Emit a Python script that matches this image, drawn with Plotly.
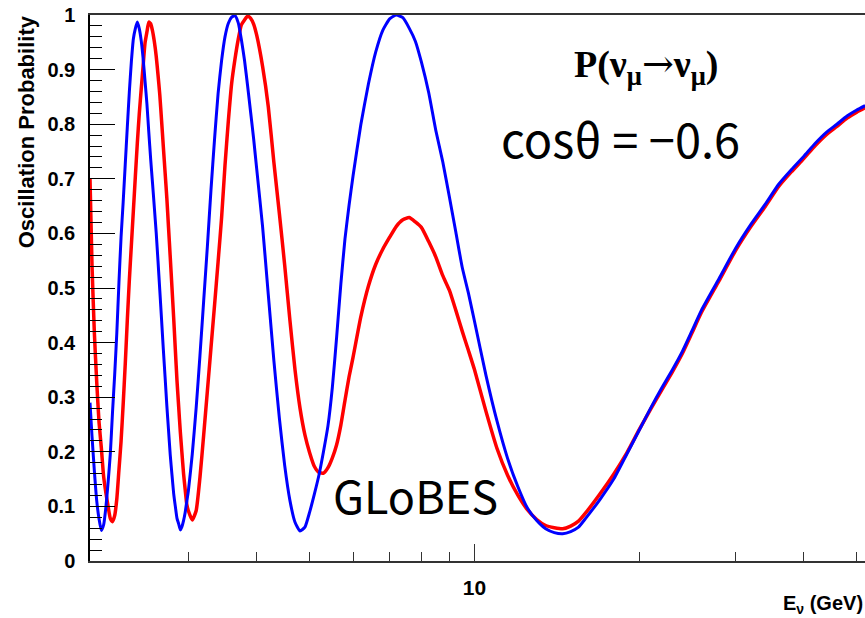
import math
import plotly.graph_objects as go

# Neutrino energy grid (GeV)
energy_gev = [1.983, 2.00, 2.02, 2.04, 2.06, 2.08, 2.10, 2.12, 2.14, 2.16, 2.18, 2.20, 2.22, 2.24,
              2.26, 2.28, 2.30, 2.32, 2.34, 2.36, 2.38, 2.40, 2.42, 2.44, 2.46, 2.48, 2.50, 2.52,
              2.54, 2.56, 2.58, 2.60, 2.62, 2.64, 2.66, 2.68, 2.70, 2.72, 2.74, 2.76, 2.78, 2.80,
              2.82, 2.84, 2.86, 2.88, 2.90, 2.92, 2.94, 2.96, 2.98, 3.00, 3.05, 3.10, 3.15, 3.20,
              3.25, 3.30, 3.35, 3.40, 3.45, 3.50, 3.55, 3.60, 3.65, 3.70, 3.75, 3.80, 3.85, 3.90,
              3.95, 4.0, 4.1, 4.2, 4.3, 4.4, 4.5, 4.6, 4.7, 4.8, 4.9, 5.0, 5.1, 5.2, 5.3, 5.4, 5.5,
              5.6, 5.7, 5.8, 5.9, 6.0, 6.2, 6.4, 6.6, 6.8, 7.0, 7.2, 7.4, 7.6, 7.8, 8.0, 8.25, 8.5,
              8.75, 9.0, 9.25, 9.5, 9.75, 10, 10.5, 11, 11.5, 12, 12.5, 13, 13.5, 14, 14.5, 15,
              15.5, 16, 17, 18, 19, 20, 21, 22, 23, 24, 25, 26, 28, 30, 32, 34, 36, 38, 40, 42,
              44, 46, 48, 50, 51.8]

# Blue curve: P(nu_mu -> nu_mu)
prob_blue = [0.29, 0.228, 0.164, 0.11, 0.077, 0.056, 0.066, 0.098, 0.144, 0.196, 0.272, 0.341,
             0.418, 0.51, 0.593, 0.657, 0.726, 0.794, 0.859, 0.914, 0.956, 0.975, 0.987, 0.975,
             0.953, 0.92, 0.879, 0.837, 0.785, 0.736, 0.692, 0.647, 0.602, 0.55, 0.496, 0.442,
             0.388, 0.337, 0.285, 0.239, 0.194, 0.158, 0.124, 0.10, 0.078, 0.068, 0.057, 0.063,
             0.074, 0.089, 0.109, 0.128, 0.196, 0.28, 0.376, 0.477, 0.576, 0.68, 0.773, 0.856,
             0.916, 0.96, 0.985, 0.996, 0.999, 0.986, 0.955, 0.917, 0.87, 0.821, 0.772, 0.718,
             0.613, 0.488, 0.367, 0.262, 0.175, 0.111, 0.071, 0.055, 0.062, 0.09, 0.123, 0.158,
             0.201, 0.248, 0.318, 0.41, 0.507, 0.59, 0.651, 0.705, 0.799, 0.873, 0.932, 0.972,
             0.993, 1.0, 0.995, 0.976, 0.952, 0.914, 0.858, 0.789, 0.732, 0.667, 0.602, 0.538,
             0.491, 0.44, 0.34, 0.256, 0.188, 0.137, 0.097, 0.074, 0.059, 0.052, 0.05, 0.054,
             0.062, 0.079, 0.114, 0.151, 0.196, 0.239, 0.28, 0.317, 0.35, 0.384, 0.422, 0.459,
             0.517, 0.572, 0.616, 0.653, 0.69, 0.717, 0.741, 0.765, 0.785, 0.80, 0.815, 0.826,
             0.834]

# Red curve
prob_red = [0.70, 0.54, 0.417, 0.327, 0.254, 0.207, 0.155, 0.125, 0.10, 0.078, 0.072, 0.083,
            0.114, 0.167, 0.219, 0.287, 0.36, 0.44, 0.514, 0.578, 0.641, 0.704, 0.765, 0.819,
            0.864, 0.907, 0.949, 0.969, 0.987, 0.984, 0.971, 0.951, 0.925, 0.891, 0.854, 0.807,
            0.759, 0.712, 0.665, 0.61, 0.556, 0.501, 0.446, 0.387, 0.33, 0.283, 0.237, 0.198,
            0.16, 0.131, 0.104, 0.092, 0.075, 0.092, 0.153, 0.231, 0.311, 0.391, 0.469, 0.548,
            0.628, 0.724, 0.806, 0.875, 0.919, 0.955, 0.982, 0.991, 0.998, 0.994, 0.983, 0.963,
            0.906, 0.832, 0.73, 0.637, 0.542, 0.441, 0.35, 0.28, 0.231, 0.198, 0.173, 0.162,
            0.161, 0.171, 0.189, 0.213, 0.249, 0.294, 0.337, 0.373, 0.447, 0.503, 0.543, 0.571,
            0.593, 0.613, 0.625, 0.629, 0.621, 0.611, 0.585, 0.557, 0.523, 0.496, 0.459, 0.421,
            0.386, 0.351, 0.274, 0.206, 0.157, 0.121, 0.094, 0.076, 0.065, 0.061, 0.059, 0.064,
            0.073, 0.089, 0.124, 0.16, 0.198, 0.24, 0.278, 0.313, 0.346, 0.38, 0.418, 0.455,
            0.513, 0.568, 0.612, 0.649, 0.686, 0.713, 0.737, 0.761, 0.781, 0.796, 0.811, 0.822,
            0.83]

x_major_ticks = [10]
x_major_labels = ["10"]
x_minor_ticks = [3, 4, 5, 6, 7, 8, 9, 20, 30, 40, 50]

fig = go.Figure()
fig.add_trace(go.Scatter(x=energy_gev, y=prob_red, mode="lines",
                         line=dict(color="#ff0000", width=3.5, shape="spline", smoothing=0.5),
                         showlegend=False))
fig.add_trace(go.Scatter(x=energy_gev, y=prob_blue, mode="lines",
                         line=dict(color="#0000ff", width=3, shape="spline", smoothing=0.5),
                         showlegend=False))

bold = dict(family="Liberation Sans, Arial, sans-serif", color="black", weight="bold")

fig.update_layout(
    width=865, height=618,
    margin=dict(l=90, r=0, t=15, b=57),
    plot_bgcolor="white", paper_bgcolor="white",
    xaxis=dict(
        type="log", range=[math.log10(1.983), math.log10(51.77)],
        showgrid=False, zeroline=False,
        showline=True, linecolor="#333333", linewidth=1.5, mirror=True,
        ticks="inside", ticklen=17, tickwidth=1.2, tickcolor="#333333",
        tickmode="array", tickvals=x_major_ticks, ticktext=x_major_labels,
        tickfont=dict(size=21, **bold), ticklabelstandoff=7,
        minor=dict(tickmode="array", tickvals=x_minor_ticks, ticks="inside",
                   ticklen=9, tickwidth=1.2, tickcolor="#333333", showgrid=False),
    ),
    yaxis=dict(
        range=[0, 1], showgrid=False, zeroline=False,
        showline=True, linecolor="black", linewidth=1.5, mirror=False,
        ticks="inside", ticklen=25, tickwidth=1.2, tickcolor="black",
        dtick=0.1, tick0=0, tickformat="~g", ticklabeloverflow="allow",
        tickfont=dict(size=20, **bold), ticklabelstandoff=9,
        minor=dict(dtick=0.02, ticks="inside", ticklen=12, tickwidth=1.2,
                   tickcolor="black", showgrid=False),
    ),
    annotations=[
        dict(text="Oscillation Probability", xref="paper", yref="paper",
             x=-0.082, y=1.003, xanchor="center", yanchor="top", textangle=-90,
             showarrow=False, font=dict(size=22, **bold)),
        dict(text="E<sub>ν</sub> (GeV)", xref="paper", yref="paper",
             x=1.0, y=(561 - 604) / 546, xanchor="right", yanchor="middle",
             showarrow=False, font=dict(size=20, **bold)),
        dict(text="<b>P(ν<sub>μ</sub></b><span style=\"font-family:'DejaVu Serif'\">→</span><b>ν<sub>μ</sub>)</b>",
             xref="paper", yref="paper",
             x=0.718, y=0.905, xanchor="center", yanchor="middle", showarrow=False,
             font=dict(size=38, family="Liberation Serif, Times New Roman, serif", color="black")),
        dict(text="cosθ = −0.6", xref="paper", yref="paper",
             x=0.684, y=0.776, xanchor="center", yanchor="middle", showarrow=False,
             font=dict(size=47, family="Noto Sans CJK JP, Noto Sans, sans-serif", color="black")),
        dict(text="GLoBES", xref="paper", yref="paper",
             x=0.4206, y=0.121, xanchor="center", yanchor="middle", showarrow=False,
             font=dict(size=45, family="Noto Sans CJK JP, Noto Sans, sans-serif", color="black")),
    ],
)

# remove the default 8px page margin so the 865x618 figure fills the window exactly
fig.write_html("out.html",
               config={"displayModeBar": False},
               post_script="document.body.style.margin='0';document.body.style.overflow='hidden';")
